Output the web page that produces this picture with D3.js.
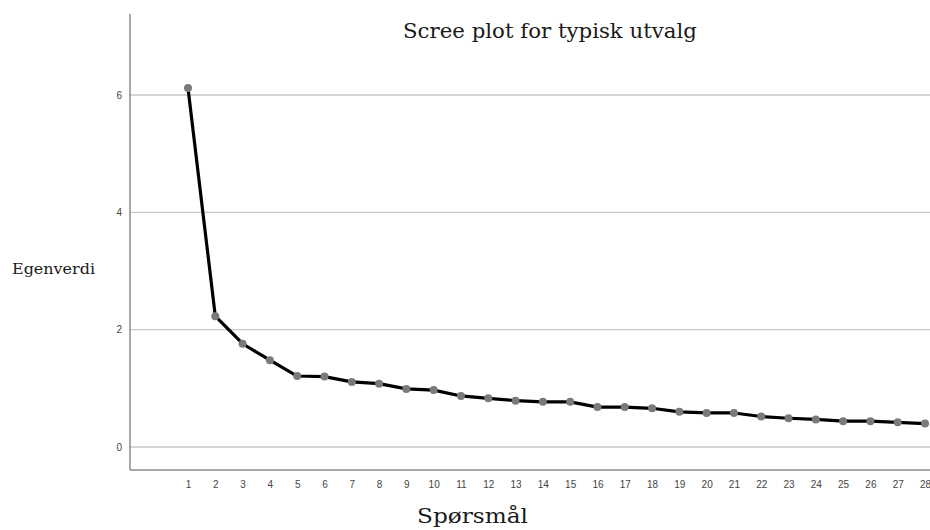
<!DOCTYPE html>
<html><head><meta charset="utf-8">
<script src="https://cdn.jsdelivr.net/npm/d3@7"></script>
<style>body{margin:0;background:#fff}svg{display:block}</style>
</head><body>
<svg id="c" width="930" height="530"></svg>
<script>
const questions = d3.range(1, 29);
const eigenvalues = [6.12, 2.23, 1.76, 1.48, 1.21, 1.20, 1.11, 1.08, 0.99, 0.97, 0.87, 0.83, 0.79, 0.77, 0.77, 0.68, 0.68, 0.66, 0.60, 0.58, 0.58, 0.52, 0.49, 0.47, 0.44, 0.44, 0.42, 0.40];
const yTicks = [0, 2, 4, 6];
const title = "Scree plot for typisk utvalg";
const yLabel = "Egenverdi";
const xLabel = "Spørsmål";

(function () {
const svg = d3.select("#c");
const x = d3.scaleLinear().domain([1, 28]).range([188, 925]);
const y = d3.scaleLinear().domain([0, 6]).range([447, 95]);
const mLeft = 130, mRight = 930, mTop = 14, mBottom = 470;
const serif = "'DejaVu Serif', serif";

// gridlines
svg.append("g").selectAll("line").data(yTicks).join("line")
  .attr("x1", mLeft).attr("x2", mRight)
  .attr("y1", d => y(d)).attr("y2", d => y(d))
  .attr("stroke", "#c8c8c8").attr("stroke-width", 1.3);

// axes lines
svg.append("line").attr("x1", mLeft).attr("x2", mLeft).attr("y1", mTop).attr("y2", mBottom)
  .attr("stroke", "#8a8a8a").attr("stroke-width", 1.5);
svg.append("line").attr("x1", mLeft).attr("x2", mRight).attr("y1", mBottom).attr("y2", mBottom)
  .attr("stroke", "#8a8a8a").attr("stroke-width", 1.5);

// y tick labels
const yAxis = svg.append("g").attr("transform", `translate(${mLeft},0)`)
  .call(d3.axisLeft(y).tickValues(yTicks).tickFormat(d3.format("d")).tickSize(0).tickPadding(8));
yAxis.select(".domain").remove();
yAxis.selectAll("text").attr("font-family", "Arial, 'Liberation Sans', sans-serif")
  .attr("font-size", 10).attr("fill", "#444");

// x tick labels
const xAxis = svg.append("g").attr("transform", `translate(0,${mBottom})`)
  .call(d3.axisBottom(x).tickValues(questions).tickFormat(d3.format("d")).tickSize(0).tickPadding(11));
xAxis.select(".domain").remove();
xAxis.selectAll("text").attr("font-family", "Arial, 'Liberation Sans', sans-serif")
  .attr("font-size", 10).attr("fill", "#444");

// line
const data = questions.map((q, i) => ({q, v: eigenvalues[i]}));
svg.append("path").datum(data)
  .attr("d", d3.line().x(d => x(d.q)).y(d => y(d.v)))
  .attr("fill", "none").attr("stroke", "#000").attr("stroke-width", 3.2)
  .attr("stroke-linejoin", "round");

svg.append("g").selectAll("circle").data(data).join("circle")
  .attr("cx", d => x(d.q)).attr("cy", d => y(d.v)).attr("r", 4)
  .attr("fill", "#7a7a7a");

// texts
svg.append("text").attr("x", 403).attr("y", 38)
  .attr("font-family", serif).attr("font-size", 21)
  .attr("textLength", 294).attr("lengthAdjust", "spacingAndGlyphs")
  .attr("fill", "#1a1a1a").text(title);
svg.append("text").attr("x", 12).attr("y", 274)
  .attr("font-family", serif).attr("font-size", 14.5)
  .attr("textLength", 83).attr("lengthAdjust", "spacingAndGlyphs")
  .attr("fill", "#1a1a1a").text(yLabel);
svg.append("text").attr("x", 417).attr("y", 523)
  .attr("font-family", serif).attr("font-size", 20)
  .attr("textLength", 111).attr("lengthAdjust", "spacingAndGlyphs")
  .attr("fill", "#1a1a1a").text(xLabel);
})();
</script>
</body></html>
